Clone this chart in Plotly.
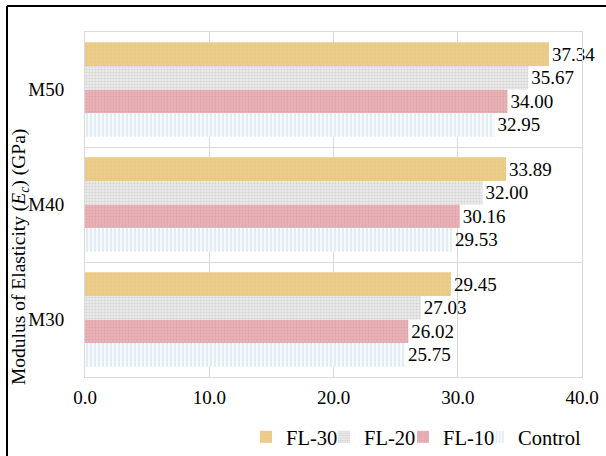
import plotly.graph_objects as go

categories = ["M30", "M40", "M50"]
series_names = ["Control", "FL-10", "FL-20", "FL-30"]
control = [25.75, 29.53, 32.95]
fl10 = [26.02, 30.16, 34.00]
fl20 = [27.03, 32.00, 35.67]
fl30 = [29.45, 33.89, 37.34]
x_ticks = [0, 10, 20, 30, 40]
x_tick_labels = ["0.0", "10.0", "20.0", "30.0", "40.0"]

W, H = 606, 456
ML, MR, MT, MB = 85, 24, 32, 79
PW, PH = W - ML - MR, H - MT - MB


def px_x(x):
    return (x - ML) / PW


def px_y(y):
    return (H - MB - y) / PH


FONT = "Liberation Serif"

styles = {
    "Control": dict(bg="#F8FBFD", fg="#9DBCD3", shape="|", size=4, solidity=0.12),
    "FL-10": dict(bg="#E9B4B8", fg="#DFA2A8", shape=".", size=3, solidity=0.3),
    "FL-20": dict(bg="#EBEBEB", fg="#D2D2D2", shape=".", size=3, solidity=0.35),
    "FL-30": dict(bg="#EDCD8C", fg="#DDB970", shape="+", size=4, solidity=0.15),
}

values = {"Control": control, "FL-10": fl10, "FL-20": fl20, "FL-30": fl30}
legend_ids = {"FL-30": "legend", "FL-20": "legend2", "FL-10": "legend3", "Control": "legend4"}
legend_text_x = {"FL-30": 286, "FL-20": 364, "FL-10": 443, "Control": 518}

fig = go.Figure()
for name in series_names:
    s = styles[name]
    vals = values[name]
    fig.add_trace(go.Bar(
        y=categories,
        x=vals,
        name=name,
        orientation="h",
        legend=legend_ids[name],
        text=[f"{v:.2f}" for v in vals],
        textposition="outside",
        textfont=dict(family=FONT, size=19, color="#000000"),
        cliponaxis=False,
        marker=dict(
            color=s["bg"],
            line=dict(width=0),
            pattern=dict(shape=s["shape"], bgcolor=s["bg"], fgcolor=s["fg"],
                         size=s["size"], solidity=s["solidity"], fillmode="replace"),
        ),
    ))

legend_layout = {}
for name, lid in legend_ids.items():
    legend_layout[lid] = dict(
        orientation="h",
        x=px_x(legend_text_x[name] - 40), xanchor="left",
        y=px_y(437), yanchor="middle",
        font=dict(family=FONT, size=20.5, color="#000000"),
        itemwidth=30,
        bgcolor="rgba(0,0,0,0)",
    )

fig.update_layout(
    width=W, height=H,
    margin=dict(l=ML, r=MR, t=MT, b=MB, autoexpand=False),
    paper_bgcolor="white",
    plot_bgcolor="white",
    barmode="group",
    bargap=0.18,
    bargroupgap=0,
    font=dict(family=FONT, size=19, color="#000000"),
    showlegend=True,
    xaxis=dict(
        range=[0, 40],
        tickvals=x_ticks,
        ticktext=x_tick_labels,
        showgrid=True,
        gridcolor="#D9D9D9",
        gridwidth=1,
        zeroline=False,
        showline=True,
        linecolor="#D9D9D9",
        mirror=True,
        ticks="",
        ticklabelstandoff=3,
        automargin=False,
        tickfont=dict(family=FONT, size=19, color="#000000"),
    ),
    yaxis=dict(
        categoryorder="array",
        categoryarray=categories,
        tickson="boundaries",
        showgrid=True,
        gridcolor="#D9D9D9",
        showline=True,
        linecolor="#D9D9D9",
        mirror=True,
        ticks="",
        ticklabelstandoff=16,
        automargin=False,
        tickfont=dict(family=FONT, size=19, color="#000000"),
    ),
    **legend_layout,
)

fig.add_annotation(
    text="Modulus of Elasticity (<i>E<sub>c</sub></i>) (GPa)",
    xref="paper", yref="paper",
    x=px_x(20), y=px_y(257),
    xanchor="center", yanchor="middle",
    textangle=-90,
    showarrow=False,
    font=dict(family=FONT, size=19.5, color="#000000"),
)

# outer frame (top and left edges)
fig.add_shape(type="line", xref="paper", yref="paper",
              x0=px_x(7), y0=px_y(6), x1=px_x(606), y1=px_y(6),
              line=dict(color="#000000", width=2))
fig.add_shape(type="line", xref="paper", yref="paper",
              x0=px_x(7), y0=px_y(6), x1=px_x(7), y1=px_y(456),
              line=dict(color="#000000", width=2))

fig.write_html("out.html")
